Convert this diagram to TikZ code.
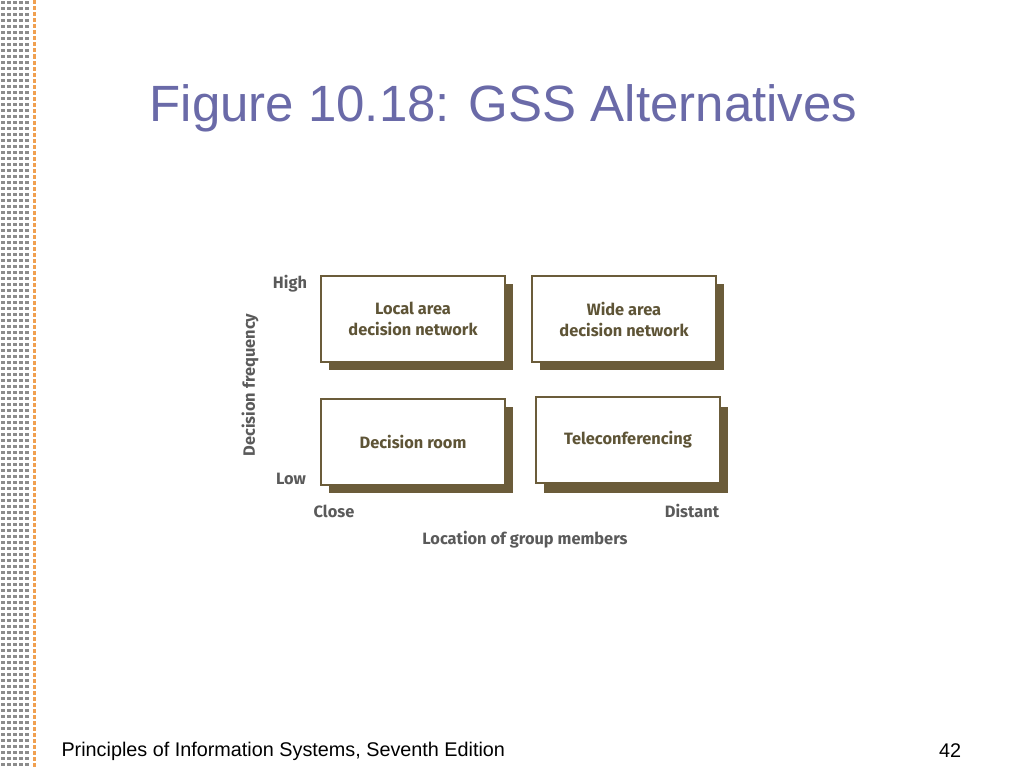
\documentclass[tikz,border=0pt]{standalone}
\usepackage{fontspec}
\setmainfont{Liberation Sans}
\newfontfamily\boxfont{Fira Sans}
\definecolor{titlec}{HTML}{6A6AA8}
\definecolor{olive}{HTML}{6B5C3A}
\definecolor{boxtxt}{HTML}{5E5436}
\definecolor{axtxt}{HTML}{5A5A5A}
\definecolor{dotc}{HTML}{8C8C8C}
\definecolor{orc}{HTML}{F0A050}
\tikzset{
  qbox/.style={draw=olive,line width=1.3pt,fill=white,minimum width=184pt,minimum height=86pt,align=center,font=\boxfont\fontsize{16.4}{21}\selectfont\bfseries,text=boxtxt},
  shad/.style={fill=olive,minimum width=184pt,minimum height=86pt,inner sep=0pt},
  axl/.style={font=\boxfont\fontsize{16.4}{19}\selectfont\bfseries,text=axtxt}
}
\begin{document}
\begin{tikzpicture}[x=1pt,y=-1pt]
\useasboundingbox (0,0) rectangle (1024,768);
\foreach \r in {0,...,127}{
  \foreach \c in {3,9,15,21,27}{
    \fill[dotc] (\c-1.6,\r*6+1) rectangle (\c+1.6,\r*6+4);
  }
  \fill[orc] (32.5,\r*6+0.5) rectangle (35.5,\r*6+4.5);
}
\node[anchor=west,text=titlec,font=\fontsize{51}{58}\selectfont] (title) at (146,108) {Figure 10.18: GSS Alternatives};
\node[anchor=west,font=\fontsize{19.8}{24}\selectfont] (foot) at (58,751) {Principles of Information Systems, Seventh Edition};
\node[font=\fontsize{19.8}{24}\selectfont] (pg) at (950,751) {42};
% shadows
\node[shad] (s1) at (421,327) {};
\node[shad] (s2) at (632,327) {};
\node[shad] (s3) at (421,450) {};
\node[shad] (s4) at (636,450) {};
\node[qbox] (b1) at (413,319) {Local area\\decision network};
\node[qbox] (b2) at (624,319) {Wide area\\decision network};
\node[qbox] (b3) at (413,442) {Decision room};
\node[qbox] (b4) at (628,440) {Teleconferencing};
\node[axl] (high) at (290,284) {High};
\node[axl] (low) at (291,479) {Low};
\node[axl] (close) at (334,511) {Close};
\node[axl] (dist) at (692,511) {Distant};
\node[axl] (loc) at (525,540) {Location of group members};
\node[axl,rotate=90] (freq) at (250,385) {Decision frequency};
\end{tikzpicture}
\end{document}
